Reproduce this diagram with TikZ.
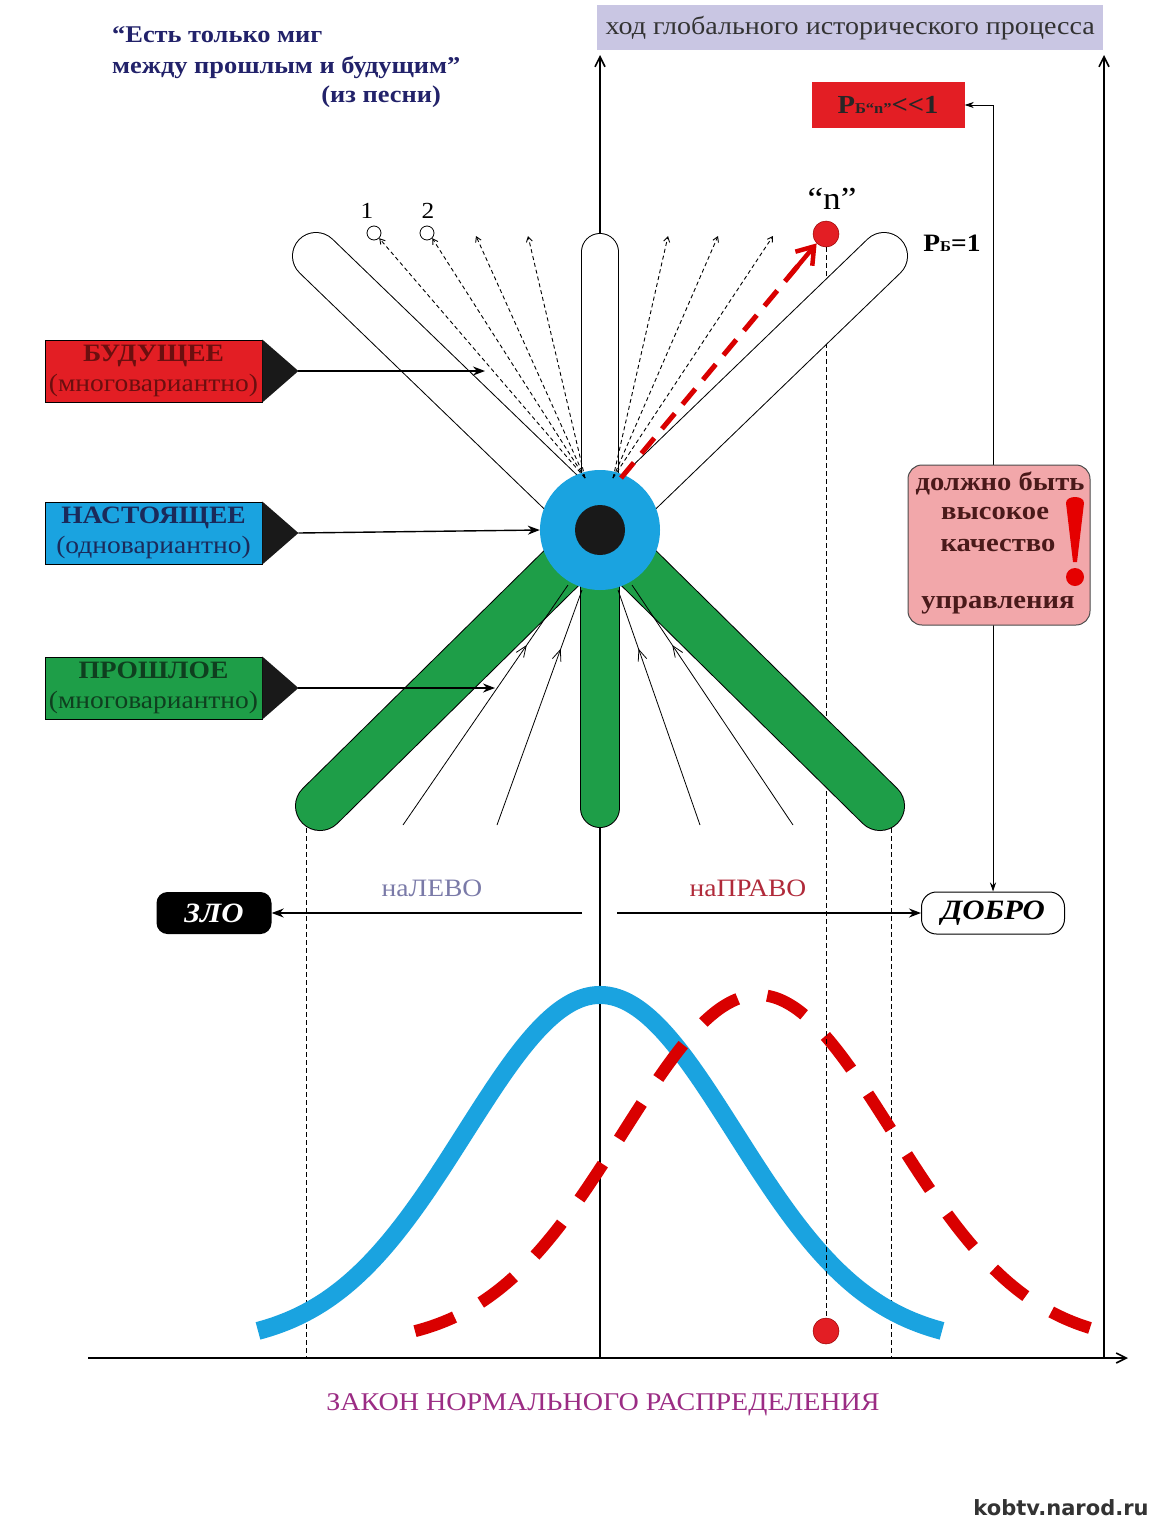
\documentclass[tikz,border=0pt]{standalone}
\usepackage{fontspec}
\setmainfont[FakeStretch=1.1]{Liberation Serif}
\newfontfamily\sitefont{DejaVu Sans}
\usetikzlibrary{arrows.meta,calc,decorations.markings}
\definecolor{headerbg}{HTML}{C9C6E3}
\definecolor{quotec}{HTML}{22226A}
\definecolor{redbox}{HTML}{E31E24}
\definecolor{blueC}{HTML}{1AA3E0}
\definecolor{greenC}{HTML}{1E9E48}
\definecolor{pinkC}{HTML}{F2A7AA}
\definecolor{futtext}{HTML}{6B0F0F}
\definecolor{prestext}{HTML}{1B2A5A}
\definecolor{pasttext}{HTML}{0F3F1F}
\definecolor{levoC}{HTML}{7A7AA8}
\definecolor{pravoC}{HTML}{B02A3A}
\definecolor{lawC}{HTML}{9B2C84}
\definecolor{pinktext}{HTML}{4A1A1A}
\newcommand{\fsz}[1]{\fontsize{#1}{#1}\selectfont}
\begin{document}
\begin{tikzpicture}[x=1pt,y=-1pt,
  axisline/.style={line width=1.6pt,-{Straight Barb[length=10pt,width=10pt,line width=1.6pt]}},
  thinarrow/.style={line width=1.4pt,-{Stealth[length=12pt,width=9pt]}},
  dashv/.style={line width=0.8pt,dash pattern=on 5pt off 3pt},
  fanline/.style={line width=0.9pt,dash pattern=on 4pt off 3pt,-{Straight Barb[length=5pt,width=6pt]}},
  pastline/.style={line width=0.8pt,postaction={decorate},
     decoration={markings,mark=at position 0.75 with {\arrow{Straight Barb[length=11pt,width=9pt,line width=0.8pt]}}}},
  labelbox/.style={draw=black,line width=0.8pt,minimum width=217pt,minimum height=62pt,inner sep=0pt,align=center,font=\fontsize{25}{30}\selectfont},
  ptxt/.style={text=pinktext,font=\fsz{26}\bfseries,inner sep=0pt}
]
\useasboundingbox (0,0) rectangle (1161,1526);
\fill[white] (0,0) rectangle (1161,1526);

% quote
\node[anchor=west,text=quotec,font=\fsz{24}\bfseries,inner sep=0pt] (q1) at (112,35) {“Есть только миг};
\node[anchor=west,text=quotec,font=\fsz{24}\bfseries,inner sep=0pt] (q2) at (112,67) {между прошлым и будущим”};
\node[anchor=east,text=quotec,font=\fsz{24}\bfseries,inner sep=0pt] (q3) at (441,97) {(из песни)};

% header
\node[fill=headerbg,minimum width=506pt,minimum height=45pt,anchor=north west,inner sep=0pt,font=\fsz{25.5},text=black!80] (header) at (597,5) {ход глобального исторического процесса};

% axes
\coordinate (o) at (600,1358);
\coordinate (vtop) at (600,55);
\coordinate (hend) at (1128,1358);
\coordinate (hstart) at (88,1358);
\coordinate (rbot) at (1104,1358);
\coordinate (rtop) at (1104,55);
\draw[axisline] (o) -- (vtop);
\draw[axisline] (hstart) -- (hend);
\draw[axisline] (rbot) -- (rtop);

% dashed verticals
\coordinate (dl1) at (306,828); \coordinate (dl2) at (306,1358);
\coordinate (dr1) at (891,828); \coordinate (dr2) at (891,1358);
\draw[dashv] (dl1) -- (dl2);
\draw[dashv] (dr1) -- (dr2);

% bell curves
\draw[line width=18pt,blueC] plot[domain=258:942,samples=120,smooth] (\x,{1345-350*exp(-0.5*((\x-600)/135)^2)});
\draw[line width=12pt,red!85!black,dash pattern=on 42pt off 30pt] plot[domain=415:1102,samples=120,smooth] (\x,{1345-350*exp(-0.5*((\x-758)/135)^2)});

% red dots and dashed line
\node[circle,fill=redbox,draw=red!60!black,line width=0.5pt,minimum size=26pt,inner sep=0pt] (ndot) at (826,234) {};
\node[circle,fill=redbox,draw=red!60!black,line width=0.5pt,minimum size=26pt,inner sep=0pt] (bdot) at (826,1331) {};
\draw[dashv] (ndot.south) -- (bdot.north);

% petals
\coordinate (c) at (600,530);
\foreach \e in {(316,256),(884,256)} {
  \draw[line width=48pt,line cap=round,black] (c) -- \e;
  \draw[line width=46pt,line cap=round,white] (c) -- \e;
}
\draw[line width=38pt,line cap=round,black] (c) -- (600,252);
\draw[line width=36pt,line cap=round,white] (c) -- (600,252);
\foreach \e in {(320,806),(880,806)} {
  \draw[line width=50pt,line cap=round,black] (c) -- \e;
  \draw[line width=48pt,line cap=round,greenC] (c) -- \e;
}
\draw[line width=40pt,line cap=round,black] (c) -- (600,808);
\draw[line width=38pt,line cap=round,greenC] (c) -- (600,808);

% center circle
\node[circle,fill=blueC,minimum size=120pt,inner sep=0pt] (now) at (c) {};
\node[circle,fill=black!90,minimum size=50pt,inner sep=0pt] (core) at (c) {};

% future fan
\node[circle,draw,line width=0.8pt,minimum size=14pt,inner sep=0pt] (v1) at (374,233) {};
\node[circle,draw,line width=0.8pt,minimum size=14pt,inner sep=0pt] (v2) at (427,233) {};
\node[font=\fsz{23},inner sep=0pt] (l1) at (367,211) {1};
\node[font=\fsz{23},inner sep=0pt] (l2) at (428,211) {2};
\coordinate (fl) at (585,478);
\coordinate (fr) at (613,478);
\draw[fanline] (fl) -- (v1.south east);
\draw[fanline] (fl) -- (v2.south east);
\foreach \xx in {476,528} {\coordinate (ft) at (\xx,236); \draw[fanline] (fl) -- (ft);}
\foreach \xx in {668,718,773} {\coordinate (ft) at (\xx,236); \draw[fanline] (fr) -- (ft);}
\coordinate (fred) at (621,478);
\draw[line width=5pt,red!85!black,dash pattern=on 20pt off 12pt] (fred) -- ($(fred)!0.93!(ndot.south west)$);
\draw[line width=4.5pt,red!85!black,-{Straight Barb[length=16pt,width=22pt,line width=4.5pt]}] ($(fred)!0.86!(ndot.south west)$) -- (ndot.south west);

% past fan
\coordinate (pb1) at (403,825); \coordinate (pt1) at (568,585);
\coordinate (pb2) at (497,825); \coordinate (pt2) at (582,590);
\coordinate (pb3) at (700,825); \coordinate (pt3) at (618,590);
\coordinate (pb4) at (793,825); \coordinate (pt4) at (632,585);
\draw[pastline] (pb1) -- (pt1);
\draw[pastline] (pb2) -- (pt2);
\draw[pastline] (pb3) -- (pt3);
\draw[pastline] (pb4) -- (pt4);

% labels left
\node[labelbox,fill=redbox,text=futtext] (fut) at (153.5,371) {\raisebox{-2pt}{\bfseries БУДУЩЕЕ}\\\raisebox{-2pt}{(многовариантно)}};
\node[labelbox,fill=blueC,text=prestext] (pres) at (153.5,533) {\raisebox{-2pt}{\bfseries НАСТОЯЩЕЕ}\\\raisebox{-2pt}{(одновариантно)}};
\node[labelbox,fill=greenC,text=pasttext] (past) at (153.5,688) {\raisebox{-2pt}{\bfseries ПРОШЛОЕ}\\\raisebox{-2pt}{(многовариантно)}};
\foreach \b in {fut,pres,past} {
  \fill[black!90] (\b.north east) -- ($(\b.east)+(36,0)$) coordinate (\b tip) -- (\b.south east) -- cycle;
}
\coordinate (futend) at (485,371);
\coordinate (pastend) at (495,688);
\draw[thinarrow] (futtip) -- (futend);
\draw[thinarrow] (prestip) -- (now.west);
\draw[thinarrow] (pasttip) -- (pastend);

% n label and Pb
\node[font=\fsz{32},inner sep=0pt] (nlab) at (832,199) {“n”};
\node[font=\fsz{25}\bfseries,inner sep=0pt] (pbone) at (952,243) {Р{\fsz{15}Б}=1};

% red box
\node[fill=redbox,minimum width=153pt,minimum height=46pt,inner sep=0pt,font=\fsz{26}\bfseries,text=black!85] (rb) at (888,105) {Р{\fsz{15}Б“n”}\mbox{<}\mbox{<}1};

% ZLO / DOBRO
\node[fill=black,rounded corners=11pt,minimum width=115pt,minimum height=42pt,inner sep=0pt,text=white,font=\fsz{28}\bfseries\itshape] (zlo) at (214,913) {ЗЛО};
\node[draw,fill=white,line width=1pt,rounded corners=15pt,minimum width=143pt,minimum height=42pt,inner sep=0pt,font=\fsz{28}\bfseries\itshape] (dobro) at (993,913) {ДОБРО};
\coordinate (ls) at (582,913);
\coordinate (rs) at (617,913);
\draw[thinarrow] (ls) -- (zlo.east);
\draw[thinarrow] (rs) -- (dobro.west);
\node[font=\fsz{25},text=levoC,inner sep=0pt] (levo) at (432,888) {наЛЕВО};
\node[font=\fsz{25},text=pravoC,inner sep=0pt] (pravo) at (748,888) {наПРАВО};

% control loop
\draw[line width=0.9pt,{Stealth[length=9pt,width=6pt]}-{Stealth[length=9pt,width=6pt]}] (rb.east) -| (dobro.north);

% pink box
\node[draw=black!70,fill=pinkC,line width=1pt,rounded corners=14pt,minimum width=182pt,minimum height=160pt,inner sep=0pt] (pink) at (999,545) {};
\node[ptxt] (p1) at (1000,483) {должно быть};
\node[ptxt] (p2) at (995,513) {высокое};
\node[ptxt] (p3) at (998,545) {качество};
\node[ptxt] (p4) at (998,605) {управления};
\fill[red!90!black] (1066,503) .. controls (1066,495) and (1084,495) .. (1084,503) -- (1077,562) -- (1073,562) -- cycle;
\fill[red!90!black] (1075,577) circle (9);

% bottom texts
\node[font=\fsz{25.5},text=lawC,inner sep=0pt] (law) at (603,1405) {ЗАКОН НОРМАЛЬНОГО РАСПРЕДЕЛЕНИЯ};
\node[font=\fsz{21}\sitefont\bfseries,text=black!80,inner sep=0pt] (site) at (1061,1508) {kobtv.narod.ru};
\end{tikzpicture}
\end{document}
